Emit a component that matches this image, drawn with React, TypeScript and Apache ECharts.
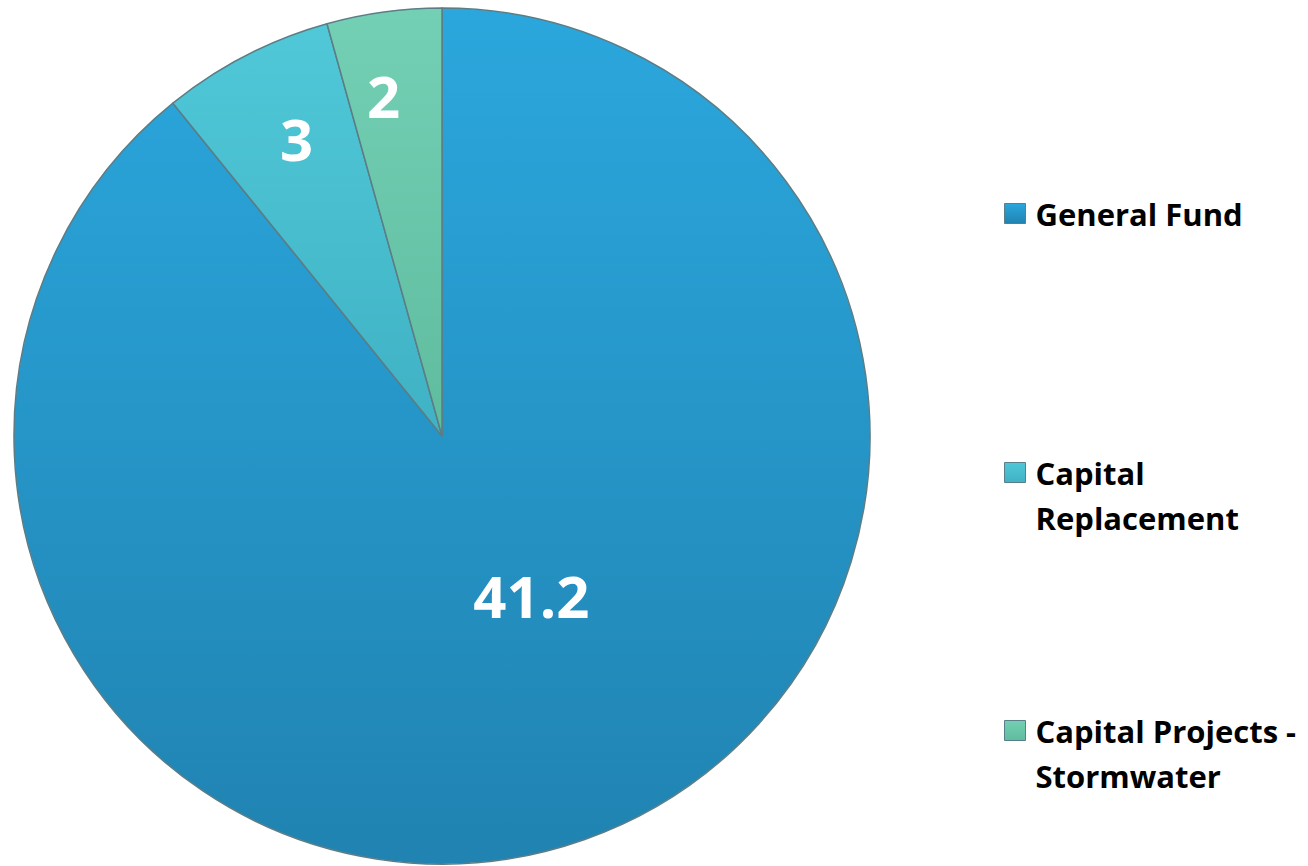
import React, { useEffect, useRef } from "react";
import * as echarts from "echarts";

const categories = ["General Fund", "Capital Replacement", "Capital Projects - Stormwater"];
const values = [41.2, 3, 2];
const legendLabels = [" \nGeneral Fund\n ", " \nCapital\nReplacement", " \nCapital Projects -\nStormwater"];
const labelTexts = ["41.2", "3", "2"];

const topColors = ["#2ba7dd", "#50c8d8", "#74d0b4"];
const bottomColors = ["#2083b1", "#3fb2c4", "#5fbc9f"];
const LABEL_OFFSETS: [number, number][] = [
  [17, -45],
  [-46, -105],
  [-29, -126],
];
const LEGEND_TOPS = [141, 400, 658];

export default function App() {
  const ref = useRef<HTMLDivElement>(null);
  useEffect(() => {
    document.body.style.margin = "0";
    const chart = echarts.init(ref.current!, undefined, { renderer: "svg" });
    const grad = (i: number) =>
      new echarts.graphic.LinearGradient(0, 0, 0, 1, [
        { offset: 0, color: topColors[i] },
        { offset: 1, color: bottomColors[i] },
      ]);
    const font = "'Open Sans', 'Liberation Sans', sans-serif";
    chart.setOption({
      animation: false,
      backgroundColor: "#ffffff",
      legend: categories.map((c, i) => ({
        orient: "vertical",
        left: 999,
        top: LEGEND_TOPS[i],
        data: [c],
        icon: "rect",
        itemWidth: 21,
        itemHeight: 20,
        selectedMode: false,
        formatter: () => legendLabels[i],
        textStyle: {
          fontFamily: font,
          fontWeight: "bold",
          fontSize: 31,
          lineHeight: 45,
          color: "#000000",
          padding: [0, 0, 0, 5],
        },
        itemStyle: { borderColor: "#5b7f88", borderWidth: 1 },
      })),
      series: [
        {
          type: "pie",
          center: [442, 436],
          radius: [0, 428],
          startAngle: 90,
          clockwise: true,
          label: {
            show: true,
            position: "inside",
            color: "#ffffff",
            fontFamily: font,
            fontWeight: "bold",
            fontSize: 58,
          },
          labelLine: { show: false },
          emphasis: { disabled: true },
          itemStyle: {
            borderColor: "#5c7d85",
            borderWidth: 1.5,
          },
          data: categories.map((c, i) => ({
            name: c,
            value: values[i],
            itemStyle: { color: grad(i) },
            label: { formatter: labelTexts[i], offset: LABEL_OFFSETS[i] },
          })),
        },
      ],
    });
    return () => chart.dispose();
  }, []);
  return <div ref={ref} style={{ width: 1308, height: 866 }} />;
}
